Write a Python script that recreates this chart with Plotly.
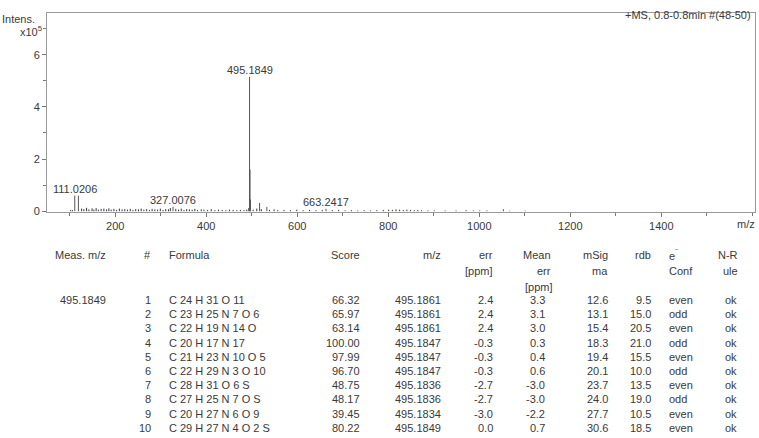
import plotly.graph_objects as go

# ---------------- spectrum data (intensity in units of 1e5) ----------------
major_mz = [111.0206, 119.0, 327.0076, 493.2, 495.1849, 496.19, 497.19, 517.17, 533.15, 663.2417, 1053.0]
major_int = [0.60, 0.60, 0.17, 0.12, 5.15, 1.60, 0.45, 0.32, 0.16, 0.09, 0.08]
label_mz = [111.0206, 327.0076, 495.1849, 663.2417]
label_txt = ["111.0206", "327.0076", "495.1849", "663.2417"]
label_int = [0.60, 0.17, 5.15, 0.09]

noise_mz = [102, 106, 126, 131, 137, 142, 149, 153, 158, 163, 169, 175, 181, 186, 191,
            197, 203, 209, 215, 221, 227, 233, 239, 245, 251, 257, 263, 269, 275, 281,
            287, 293, 299, 305, 311, 317, 321, 333, 339, 345, 351, 357, 363, 369, 375,
            381, 389, 395, 403, 411, 419, 427, 435, 443, 451, 459, 467, 475, 483, 489,
            503, 511, 521, 539, 549, 557, 571, 585, 599, 613, 627, 641, 655, 677, 691,
            705, 719, 733, 747, 761, 775, 789, 801, 809, 817, 825, 833, 841, 849, 857,
            865, 873, 887, 901, 925, 949, 971, 987, 1001, 1017, 1067, 1101]
noise_int = [0.05, 0.04, 0.10, 0.08, 0.13, 0.07, 0.11, 0.06, 0.12, 0.06, 0.09, 0.10, 0.07, 0.11, 0.06,
             0.09, 0.05, 0.10, 0.07, 0.08, 0.06, 0.09, 0.05, 0.08, 0.07, 0.10, 0.06, 0.08, 0.05, 0.09,
             0.07, 0.06, 0.10, 0.05, 0.08, 0.07, 0.12, 0.09, 0.06, 0.10, 0.05, 0.08, 0.07, 0.06, 0.09,
             0.05, 0.07, 0.06, 0.05, 0.08, 0.04, 0.06, 0.05, 0.04, 0.06, 0.05, 0.04, 0.05, 0.04, 0.06,
             0.06, 0.10, 0.08, 0.05, 0.07, 0.04, 0.05, 0.04, 0.06, 0.04, 0.05, 0.04, 0.05, 0.04, 0.05,
             0.03, 0.04, 0.03, 0.04, 0.03, 0.04, 0.05, 0.06, 0.05, 0.07, 0.06, 0.05, 0.06, 0.05, 0.04,
             0.05, 0.04, 0.03, 0.03, 0.03, 0.03, 0.04, 0.03, 0.03, 0.03, 0.02, 0.02]

x_ticks = [200, 400, 600, 800, 1000, 1200, 1400]
y_ticks = [0, 2, 4, 6]

# ---------------- table data ----------------
meas_mz = ["495.1849"]
cand_no = ["1", "2", "3", "4", "5", "6", "7", "8", "9", "10"]
formulas = ["C 24 H 31 O 11", "C 23 H 25 N 7 O 6", "C 22 H 19 N 14 O", "C 20 H 17 N 17",
            "C 21 H 23 N 10 O 5", "C 22 H 29 N 3 O 10", "C 28 H 31 O 6 S", "C 27 H 25 N 7 O S",
            "C 20 H 27 N 6 O 9", "C 29 H 27 N 4 O 2 S"]
scores = ["66.32", "65.97", "63.14", "100.00", "97.99", "96.70", "48.75", "48.17", "39.45", "80.22"]
calc_mz = ["495.1861", "495.1861", "495.1861", "495.1847", "495.1847", "495.1847",
           "495.1836", "495.1836", "495.1834", "495.1849"]
err_ppm = ["2.4", "2.4", "2.4", "-0.3", "-0.3", "-0.3", "-2.7", "-2.7", "-3.0", "0.0"]
mean_err = ["3.3", "3.1", "3.0", "0.3", "0.4", "0.6", "-3.0", "-3.0", "-2.2", "0.7"]
msigma = ["12.6", "13.1", "15.4", "18.3", "19.4", "20.1", "23.7", "24.0", "27.7", "30.6"]
rdb = ["9.5", "15.0", "20.5", "21.0", "15.5", "10.0", "13.5", "19.0", "10.5", "18.5"]
e_conf = ["even", "odd", "even", "odd", "even", "odd", "even", "odd", "even", "even"]
n_rule = ["ok", "ok", "ok", "ok", "ok", "ok", "ok", "ok", "ok", "ok"]

# ---------------- build figure ----------------
W, H = 759, 438
L, R, T, B = 47, 755, 13, 212
FONT = "Arial, Liberation Sans, sans-serif"
TXT = "#3a3a3a"


def px(x):
    return (x - L) / (R - L)


def py(y):
    return (B - y) / (B - T)


def sticks(mz, inten):
    xs, ys = [], []
    for m, h in zip(mz, inten):
        xs += [m, m, None]
        ys += [0, h, None]
    return xs, ys


fig = go.Figure()
nx, ny = sticks(noise_mz, noise_int)
fig.add_trace(go.Scatter(x=nx, y=ny, mode="lines", line=dict(color="#333333", width=1),
                         hoverinfo="skip", showlegend=False))
mx, my = sticks(major_mz, major_int)
fig.add_trace(go.Scatter(x=mx, y=my, mode="lines", line=dict(color="#555555", width=1),
                         hoverinfo="skip", showlegend=False))

annotations = []
for m, t, h in zip(label_mz, label_txt, label_int):
    annotations.append(dict(x=m, y=h, xref="x", yref="y", text=t, showarrow=False,
                            xanchor="center", yanchor="bottom", yshift=-1,
                            font=dict(family=FONT, size=11, color=TXT)))


def txt(x, y, s, anchor="right"):
    annotations.append(dict(x=px(x), y=py(y), xref="paper", yref="paper", text=s,
                            showarrow=False, xanchor=anchor, yanchor="middle",
                            font=dict(family=FONT, size=11, color=TXT)))


# axis captions
txt(37, 19, "Intens.")
txt(44, 31, "x10<sup>5</sup>")
txt(753, 15, "+MS, 0.8-0.8min #(48-50)")
txt(757, 224, "m/z")

# table headers
h1, h2, h3 = 255, 271, 287
txt(108, h1, "Meas. m/z")
txt(153, h1, "#")
txt(167, h1, "Formula", "left")
txt(362, h1, "Score")
txt(443, h1, "m/z")
txt(495, h1, "err")
txt(495, h2, "[ppm]")
txt(553, h1, "Mean")
txt(553, h2, "err")
txt(523, h3, "[ppm]", "left")
txt(610, h1, "mSig")
txt(610, h2, "ma")
txt(653, h1, "rdb")
txt(667, h1, "e<sup>‾</sup>", "left")
txt(667, h2, "Conf", "left")
txt(740, h1, "N-R")
txt(740, h2, "ule")

row0, dy = 300, 14.2
txt(108, row0, meas_mz[0])
for i in range(len(cand_no)):
    y = row0 + i * dy
    txt(153, y, cand_no[i])
    txt(167, y, formulas[i], "left")
    txt(362, y, scores[i])
    txt(443, y, calc_mz[i])
    txt(495, y, err_ppm[i])
    txt(547, y, mean_err[i])
    txt(610, y, msigma[i])
    txt(653, y, rdb[i])
    txt(667, y, e_conf[i], "left")
    txt(739, y, n_rule[i])

axis_common = dict(showline=True, mirror=True, linecolor="#9a9a9a", linewidth=1,
                   showgrid=False, zeroline=False, ticks="outside", ticklen=4,
                   tickcolor="#777777", tickfont=dict(family=FONT, size=11, color=TXT),
                   automargin=False)

fig.update_layout(
    width=W, height=H,
    margin=dict(l=L, r=W - R, t=T, b=H - B, autoexpand=False),
    paper_bgcolor="white", plot_bgcolor="white",
    xaxis=dict(range=[50, 1606], tickvals=x_ticks,
               minor=dict(dtick=100, tick0=0, ticks="outside", ticklen=3, tickcolor="#777777"),
               **axis_common),
    yaxis=dict(range=[-0.03, 7.6], tickvals=y_ticks,
               minor=dict(dtick=1, tick0=0, ticks="outside", ticklen=3, tickcolor="#777777"),
               **axis_common),
    annotations=annotations,
    showlegend=False,
)

fig.write_html("out.html", config={"displayModeBar": False},
               post_script="document.body.style.margin='0';document.body.style.padding='0';")
